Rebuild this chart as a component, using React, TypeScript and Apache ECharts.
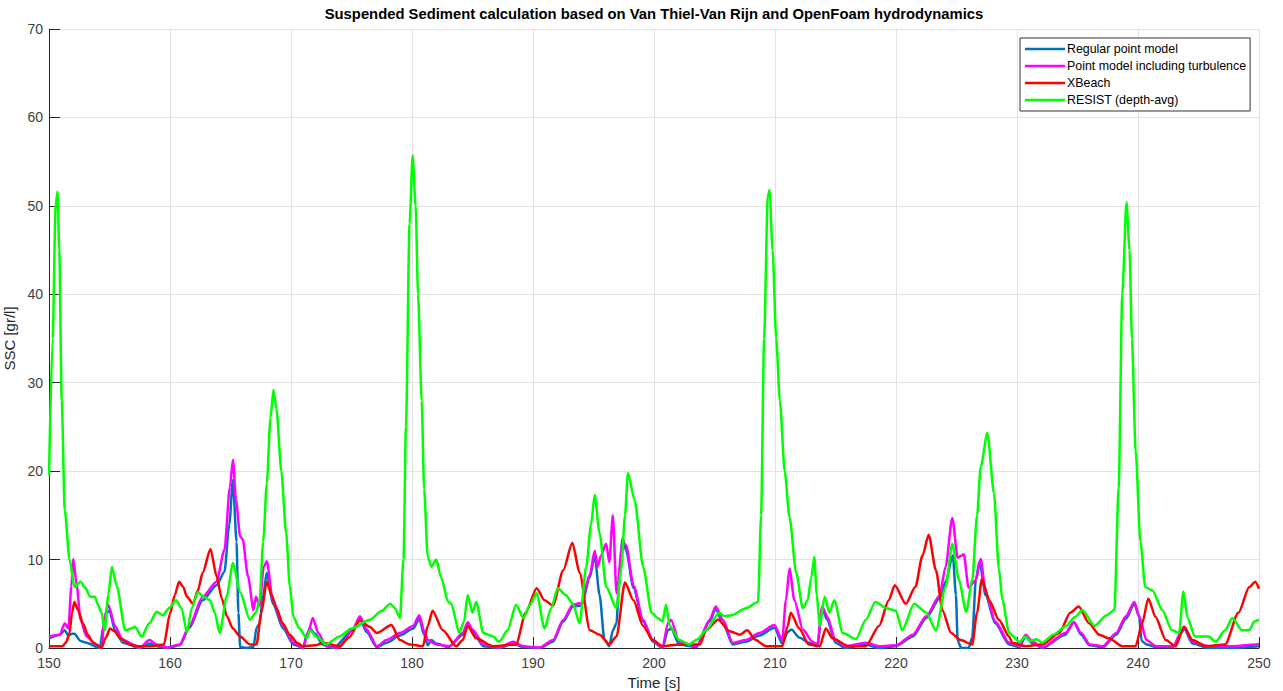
import React, { useEffect, useRef } from "react";
import * as echarts from "echarts";

// Time [s] / SSC [gr/l] samples for each model
const regularPoint: [number, number][] = [
  [150, 1.1], [150.9, 1.5], [151.3, 2.0], [151.6, 1.4], [151.9, 1.6], [152.1, 1.6], [152.6, 0.8], [153.1, 0.6],
  [154.2, 0], [154.5, 2.5], [154.75, 4], [155.0, 4.2], [155.45, 2], [156.1, 0.6], [157.5, 0], [158.3, 0.5],
  [158.9, 0.2], [159.7, 0], [160.8, 0.3], [161.6, 2.3], [162.7, 5.4], [163.85, 7.1], [164.5, 8.6], [164.9, 14],
  [165.2, 19], [165.5, 12], [165.65, 4], [165.8, 0.1], [166.3, 0], [166.9, 0.1], [167.15, 2.3], [167.4, 2.7],
  [167.7, 6], [168.0, 8.5], [168.5, 5.0], [169.35, 2.2], [170.2, 0.4], [171.0, 0], [171.3, 1.5], [171.55, 2.2],
  [172.0, 1.6], [172.6, 0.4], [173.5, 0], [175.1, 2], [175.7, 3.3], [176.25, 1.8], [177.1, 0.1], [177.9, 0.6],
  [179.0, 1.4], [180.1, 2.2], [180.6, 3.3], [181.0, 1.5], [181.3, 0.3], [181.6, 0.9], [182.0, 0.5], [183.0, 0.1],
  [184.2, 1.5], [184.6, 2.6], [185.0, 1.9], [185.9, 0.2], [187.2, 0], [188.35, 0.5], [189.2, 0.1], [190.55, 0],
  [191.65, 0.7], [192.5, 3], [193.3, 4.7], [194.0, 4.8], [194.7, 8], [195.1, 10.4], [195.5, 6], [195.9, 1],
  [196.3, 0.2], [196.6, 2], [196.9, 2.8], [197.1, 7], [197.4, 12.4], [197.7, 11], [198.3, 6.8], [199.1, 3],
  [199.9, 0.7], [200.7, 0], [201.15, 2], [201.4, 2.2], [202.1, 0.4], [203.5, 0.1], [204.6, 3], [205.1, 4.4],
  [205.7, 2.8], [206.5, 0.4], [207.6, 0.7], [208.7, 1.4], [209.95, 2.3], [210.6, 0.5], [211.05, 1.8], [211.35, 2.1],
  [212.0, 1.2], [212.8, 0.6], [213.5, 0.2], [213.9, 4.5], [214.3, 3.2], [215.0, 0.6], [215.8, 0], [217.5, 0.4],
  [218.6, 0], [220.0, 0.2], [221.4, 1.3], [222.5, 3.4], [223.6, 5.6], [224.1, 7.5], [224.7, 10.5], [224.95, 6],
  [225.1, 0.8], [225.4, 0], [226.0, 0], [226.3, 1.2], [226.6, 7.7], [226.9, 9.8], [227.4, 6], [228.2, 2.8],
  [229.35, 0.4], [230.2, 0.1], [230.7, 1.3], [231.3, 0.5], [232.1, 0], [234.0, 1.5], [234.7, 2.9], [235.3, 1.5],
  [236.0, 0.3], [237.1, 0.1], [238.2, 1.5], [239.0, 3.3], [239.7, 5], [240.1, 3.5], [240.3, 0.8], [240.7, 0.4],
  [241.5, 0.1], [242.9, 0.1], [243.6, 1.7], [243.8, 2.2], [244.5, 0.5], [245.85, 0], [247.8, 0], [250, 0.2],
];

const pointTurbulence: [number, number][] = [
  [150, 1.3], [150.9, 1.5], [151.3, 2.8], [151.6, 2.2], [151.85, 7], [152.0, 10.1], [152.3, 7], [152.6, 3.2],
  [153.1, 1.3], [153.9, 0.4], [154.35, 0], [154.6, 3.6], [154.9, 4.9], [155.45, 2.5], [156.1, 0.9], [157.5, 0.05],
  [158.3, 0.9], [158.9, 0.4], [159.7, 0.05], [160.8, 0.4], [161.6, 2.5], [162.7, 5.8], [163.85, 7.5], [164.5, 11.1],
  [164.95, 18.2], [165.2, 21.3], [165.45, 16.8], [165.8, 12.6], [166.0, 12.3], [166.45, 8.1], [166.9, 4.3], [167.1, 5.8],
  [167.4, 4.8], [167.75, 9.2], [168.0, 9.8], [168.5, 5.4], [169.35, 2.5], [170.2, 0.6], [171.0, 0.05], [171.4, 1.7],
  [171.8, 3.4], [172.25, 1.7], [172.9, 0.2], [174.0, 0.05], [175.1, 2.1], [175.7, 3.6], [176.25, 2.1], [177.1, 0.2],
  [177.9, 0.9], [179.0, 1.7], [180.1, 2.5], [180.6, 3.7], [181.05, 1.7], [181.3, 0.9], [182.0, 0.4], [183.1, 0.2],
  [184.2, 1.7], [184.6, 2.9], [185.0, 2.1], [185.9, 0.4], [187.2, 0.05], [188.35, 0.7], [189.2, 0.2], [190.55, 0.05],
  [191.65, 0.9], [192.5, 3.2], [193.3, 4.9], [194.0, 5.1], [194.7, 8.3], [195.1, 11], [195.35, 9.2], [195.6, 10.4],
  [196.05, 11.8], [196.3, 9.7], [196.6, 15], [196.9, 6.2], [197.4, 12], [197.7, 11.6], [198.3, 7.1], [199.1, 3.2],
  [199.9, 0.9], [200.7, 0.05], [201.15, 2.8], [201.4, 3.2], [202.1, 0.7], [203.5, 0.2], [204.6, 3.2], [205.1, 4.7],
  [205.7, 3.2], [206.5, 0.6], [207.6, 0.9], [208.7, 1.7], [209.95, 2.6], [210.6, 0.9], [210.9, 5.4], [211.2, 9],
  [211.6, 5.4], [212.3, 2.1], [213.1, 0.7], [213.5, 0.4], [213.9, 4.7], [214.3, 3.6], [215.0, 0.9], [215.8, 0.2],
  [217.5, 0.6], [218.6, 0.2], [220.0, 0.3], [221.4, 1.5], [222.5, 3.6], [223.6, 5.9], [224.1, 9.2], [224.65, 14.7],
  [225.1, 10.2], [225.35, 10.4], [225.6, 10.6], [226.0, 6.8], [226.6, 7.7], [227.0, 10.1], [227.4, 6.4], [228.2, 3.0],
  [229.35, 0.6], [230.2, 0.2], [230.7, 1.5], [231.3, 0.7], [232.1, 0.05], [234.0, 1.7], [234.7, 2.9], [235.3, 1.7],
  [236.0, 0.4], [237.1, 0.2], [238.2, 1.7], [239.0, 3.6], [239.7, 5.2], [240.1, 3.6], [240.7, 0.9], [241.5, 0.2],
  [242.9, 0.2], [243.6, 1.9], [243.8, 2.4], [244.5, 0.7], [245.85, 0.2], [247.8, 0.2], [249.8, 0.4], [250, 0.5],
];

const xbeach: [number, number][] = [
  [150, 0.2], [150.5, 0.2], [151.1, 0.2], [151.4, 0.6], [151.7, 1.7], [151.9, 4], [152.1, 5.2], [152.4, 4.3],
  [152.8, 2.8], [153.2, 1.5], [153.65, 0.6], [154.35, 0.05], [154.7, 1.2], [155.05, 2.2], [155.4, 1.9], [155.9, 1.1],
  [156.7, 0.4], [157.5, 0.2], [158.5, 0.2], [159.5, 0.4], [160.0, 3.9], [160.4, 6], [160.75, 7.5], [161.1, 6.9],
  [161.4, 5.8], [161.9, 5], [162.3, 6.5], [162.7, 8.5], [163.35, 11.2], [163.85, 8.1], [164.3, 5.5], [164.7, 3.6],
  [165.2, 2.2], [165.8, 1.3], [166.6, 0.4], [167.15, 0.4], [167.55, 4], [168.0, 7.5], [168.4, 6], [168.8, 4.5],
  [169.3, 2.8], [169.9, 1.5], [170.5, 0.6], [171.0, 0.2], [172.0, 0.3], [172.65, 0.6], [174.0, 0.2], [174.8, 1.2],
  [175.7, 3.1], [176.5, 2.4], [177.1, 1.7], [178.3, 2.6], [179.0, 0.9], [179.8, 0.4], [180.9, 0.2], [181.3, 2.5],
  [181.7, 4.2], [182.55, 2], [183.65, 0.2], [184.2, 0.9], [184.6, 2.5], [185.3, 1.1], [186.7, 0.2], [188.6, 0.4],
  [189.4, 4], [190.3, 6.75], [190.95, 5.4], [191.65, 4.8], [192.5, 8.8], [193.25, 11.9], [193.85, 8.5], [194.7, 2],
  [195.5, 1.5], [196.3, 0.4], [196.9, 1.3], [197.6, 7.4], [198.3, 5.4], [199.1, 2.5], [199.9, 0.9], [200.7, 0.2],
  [202.1, 0.4], [203.8, 0.4], [204.3, 2], [205.3, 3.2], [206.25, 1.9], [207.1, 1.5], [207.7, 2], [208.4, 0.9],
  [209.25, 0.2], [210.6, 0.2], [211.05, 2.5], [211.3, 4], [212.0, 2.2], [212.8, 0.4], [213.7, 0.2], [214.2, 2.2],
  [214.75, 1.1], [216.1, 0.2], [217.5, 0.2], [218.6, 2.5], [219.4, 5.4], [219.9, 7.1], [220.8, 5], [221.6, 6.9],
  [222.2, 10.5], [222.7, 12.8], [223.3, 8.8], [223.85, 4.2], [224.55, 1.7], [225.35, 0.9], [226.3, 0.4], [226.7, 4],
  [227.1, 7.8], [227.7, 5.4], [228.5, 3.2], [229.35, 1.3], [229.6, 0.6], [230.7, 0.2], [232.1, 0.4], [233.5, 1.7],
  [234.4, 4], [235.1, 4.7], [235.95, 2.8], [236.8, 1.5], [237.6, 1.1], [238.7, 0.2], [239.8, 0.2], [240.35, 2.8],
  [240.85, 5.6], [241.45, 3.5], [242.3, 0.9], [243.1, 0.2], [243.8, 2.4], [244.5, 0.9], [245.6, 0.2], [247.2, 0.4],
  [248.3, 4], [249.2, 6.9], [249.7, 7.5], [250, 6.7],
];

const resistDepthAvg: [number, number][] = [
  [150, 19.5], [150.3, 35], [150.55, 50], [150.7, 51.6], [150.85, 45], [151.05, 28], [151.3, 15.6], [151.7, 10],
  [152.1, 6.9], [152.6, 7.5], [153.0, 6.8], [153.4, 5.8], [153.8, 5.8], [154.0, 5.0], [154.35, 4], [154.6, 2],
  [154.9, 6], [155.2, 9.2], [155.6, 7], [156.3, 2], [156.8, 2.2], [157.1, 2.4], [157.65, 1.3], [158.3, 2.8],
  [158.9, 4.1], [159.4, 3.7], [160.0, 4.6], [160.5, 5.4], [160.95, 4.5], [161.4, 1.8], [161.8, 4.5], [162.3, 6.3],
  [162.8, 5.8], [163.3, 5.4], [163.7, 4], [164.1, 1.7], [164.7, 5.9], [165.2, 9.6], [165.8, 6.3], [166.6, 3.2],
  [167.1, 4.0], [167.4, 5.4], [167.7, 12], [168.0, 18.6], [168.3, 26], [168.55, 29.2], [168.8, 27], [169.2, 20],
  [169.6, 13], [169.9, 7], [170.2, 3.5], [170.7, 2.2], [171.3, 1.1], [171.55, 2], [172.2, 1.2], [172.9, 0.4],
  [174.0, 1.3], [175.0, 2.2], [176.5, 3.2], [177.5, 4.2], [178.2, 5.0], [178.6, 4.5], [179.0, 3.4], [179.3, 10],
  [179.5, 25], [179.8, 48], [180.05, 55.7], [180.3, 50], [180.5, 40], [180.8, 28], [181.0, 18], [181.3, 10.3],
  [181.6, 9.2], [182.0, 10], [182.4, 8], [183.0, 5.2], [183.25, 5.0], [183.9, 1.7], [184.3, 3], [184.6, 6],
  [185.0, 4.0], [185.3, 5.2], [185.9, 1.7], [186.7, 1.3], [187.2, 0.7], [187.9, 2], [188.6, 4.9], [189.2, 3.4],
  [189.8, 5], [190.3, 6.2], [190.95, 2.2], [191.5, 4.5], [192.05, 6.75], [192.7, 6], [193.3, 5], [193.85, 2.8],
  [194.4, 9.2], [194.8, 14], [195.1, 17.3], [195.5, 13], [196.05, 6.9], [196.9, 4.5], [197.3, 9], [197.6, 15],
  [197.85, 19.8], [198.4, 16.7], [199.1, 9.2], [199.8, 4], [200.3, 3.4], [200.7, 3], [201.0, 4.9], [201.3, 2.5],
  [202.1, 0.9], [202.9, 0.4], [203.6, 1.0], [204.3, 2], [205.4, 4], [205.8, 3.6], [206.4, 3.7], [207.6, 4.5],
  [208.6, 5.2], [208.85, 15], [209.1, 35], [209.4, 51], [209.55, 51.8], [209.8, 45], [210.1, 35], [210.4, 28],
  [210.8, 20], [211.2, 14.8], [211.75, 8.5], [212.3, 4.5], [212.7, 5.4], [213.0, 8], [213.25, 10.3], [213.45, 6],
  [213.7, 2.5], [214.1, 5.8], [214.5, 4], [214.9, 5.4], [215.6, 1.7], [216.7, 1], [217.5, 3.2], [218.3, 5.2],
  [219.2, 4.5], [220.0, 4.2], [220.5, 2], [221.5, 5], [222.5, 4], [223.3, 2], [224.1, 6.9], [224.65, 11.8],
  [225.2, 7.7], [225.8, 4.1], [226.3, 7.7], [226.7, 15], [227.0, 20.5], [227.55, 24.3], [228.1, 17.5], [228.5, 9],
  [228.8, 5.4], [229.35, 1.7], [230.2, 0.7], [230.7, 1.3], [231.1, 0.8], [231.6, 1], [232.1, 0.6], [233.0, 1.5],
  [234.05, 2.5], [234.8, 3.5], [235.4, 4.3], [236.4, 2.5], [237.4, 3.7], [238.05, 4.3], [238.4, 18], [238.7, 40],
  [239.05, 50.4], [239.3, 45], [239.5, 35], [239.8, 22.4], [240.2, 12], [240.6, 6.9], [241.2, 6.5], [242.0, 4.3],
  [242.8, 2], [243.4, 1.7], [243.75, 6.4], [244.1, 3.4], [244.7, 1.3], [245.85, 1.3], [246.4, 0.7], [247.2, 2],
  [247.8, 3.4], [248.6, 2], [249.2, 2], [249.6, 3.0], [250, 3.2],
];

const seriesNames = [
  "Regular point model",
  "Point model including turbulence",
  "XBeach",
  "RESIST (depth-avg)",
];
const seriesColors = ["#0072BD", "#FF00FF", "#FF0000", "#00FF00"];
const seriesData = [regularPoint, pointTurbulence, xbeach, resistDepthAvg];

const titleText = "Suspended Sediment calculation based on Van Thiel-Van Rijn and OpenFoam hydrodynamics";
const xName = "Time [s]";
const yName = "SSC [gr/l]";

const FONT = "'Liberation Sans', Arial, Helvetica, sans-serif";

export default function App() {
  const ref = useRef<HTMLDivElement>(null);

  useEffect(() => {
    if (!ref.current) return;
    const chart = echarts.init(ref.current, null, { renderer: "svg" });
    const axisColor = "#262626";
    const labelColor = "#404040";
    chart.setOption({
      animation: false,
      backgroundColor: "#ffffff",
      textStyle: { fontFamily: FONT },
      grid: {
        left: 49,
        right: 24,
        top: 29,
        bottom: 43,
        containLabel: false,
        outerBoundsMode: "none",
      },
      graphic: [
        {
          type: "text",
          x: 654,
          y: 14,
          style: {
            text: titleText,
            fill: "#000000",
            font: `bold 14.8px ${FONT}`,
            textAlign: "center",
            textVerticalAlign: "middle",
          },
        },
      ],
      legend: {
        data: seriesNames,
        orient: "vertical",
        left: 1020,
        top: 38,
        icon: "rect",
        itemWidth: 40,
        itemHeight: 2.5,
        itemGap: 5,
        padding: [5, 4, 5, 5],
        borderColor: "#333333",
        borderWidth: 1,
        backgroundColor: "#ffffff",
        textStyle: { fontFamily: FONT, fontSize: 12.4, color: "#000000", padding: [0, 0, 0, -3] },
      },
      xAxis: {
        type: "value",
        min: 150,
        max: 250,
        interval: 10,
        name: xName,
        nameLocation: "middle",
        nameGap: 27,
        nameTextStyle: { fontFamily: FONT, fontSize: 15, color: "#262626" },
        axisLine: { show: true, onZero: false, lineStyle: { color: axisColor, width: 1 } },
        axisTick: { show: true, inside: true, length: 11, lineStyle: { color: axisColor } },
        axisLabel: { fontFamily: FONT, fontSize: 14, color: labelColor, margin: 8 },
        splitLine: { show: true, lineStyle: { color: "#e3e3e3", width: 1 } },
      },
      yAxis: {
        type: "value",
        min: 0,
        max: 70,
        interval: 10,
        name: yName,
        nameLocation: "middle",
        nameGap: 23,
        nameTextStyle: { fontFamily: FONT, fontSize: 15, color: "#262626" },
        axisLine: { show: true, onZero: false, lineStyle: { color: axisColor, width: 1 } },
        axisTick: { show: true, inside: true, length: 11, lineStyle: { color: axisColor } },
        axisLabel: { fontFamily: FONT, fontSize: 14, color: labelColor, margin: 6 },
        splitLine: { show: true, lineStyle: { color: "#e3e3e3", width: 1 } },
      },
      series: seriesData.map((d, i) => ({
        name: seriesNames[i],
        type: "line",
        data: d,
        showSymbol: false,
        smooth: 0.25,
        smoothMonotone: "x",
        color: seriesColors[i],
        lineStyle: { width: 2.5, color: seriesColors[i] },
        z: 2 + i,
      })),
    });
    return () => chart.dispose();
  }, []);

  return (
    <div
      ref={ref}
      style={{ position: "absolute", left: 0, top: 0, width: 1283, height: 691 }}
    />
  );
}
